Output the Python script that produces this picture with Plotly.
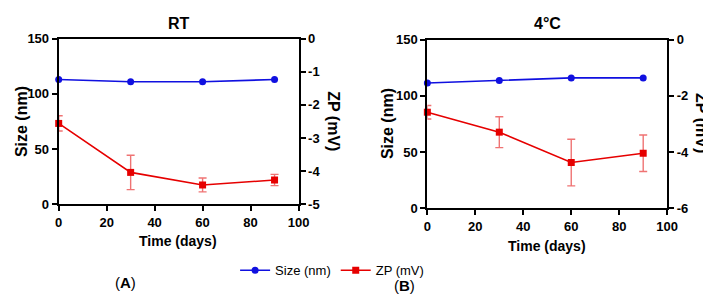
import plotly.graph_objects as go

days = [0, 30, 60, 90]
rt_size = [113, 111, 111, 113]
rt_zp = [-2.56, -4.04, -4.42, -4.27]
rt_zp_err = [0.23, 0.52, 0.21, 0.17]
c4_size = [111.5, 113.7, 116, 116]
c4_zp = [-2.58, -3.29, -4.37, -4.04]
c4_zp_err = [0.24, 0.55, 0.83, 0.65]

x_ticks = [0, 20, 40, 60, 80, 100]
size_ticks = [0, 50, 100, 150]
rt_zp_ticks = [0, -1, -2, -3, -4, -5]
c4_zp_ticks = [0, -2, -4, -6]

W, H = 711, 295
BLUE = "#1010e0"
RED = "#e60000"
ERR = "rgba(230,40,40,0.65)"
FONT = "Liberation Sans, Arial, sans-serif"

def px(x):
    return x / W

def py(y):
    return 1 - y / H

def lab(v):
    return str(v).replace("\u2212", "-")

fig = go.Figure()

def add_panel(size, zp, err, xa, ya, ya2, show):
    fig.add_trace(go.Scatter(
        x=days, y=size, xaxis=xa, yaxis=ya, name="Size (nm)",
        mode="lines+markers", line=dict(color=BLUE, width=1.6),
        marker=dict(symbol="circle", size=7, color=BLUE),
        cliponaxis=False, showlegend=show, legendgroup="s"))
    fig.add_trace(go.Scatter(
        x=days, y=zp, xaxis=xa, yaxis=ya2, name="ZP (mV)",
        mode="lines+markers", line=dict(color=RED, width=1.6),
        marker=dict(symbol="square", size=7, color=RED),
        error_y=dict(type="data", array=err, color=ERR, thickness=1.4, width=4),
        cliponaxis=False, showlegend=show, legendgroup="z"))

add_panel(rt_size, rt_zp, rt_zp_err, "x", "y", "y2", True)
add_panel(c4_size, c4_zp, c4_zp_err, "x2", "y3", "y4", False)

tickfont = dict(family=FONT, size=13, color="black", weight="bold")
axis_common = dict(showline=True, linecolor="black", linewidth=2, ticks="outside",
                   ticklen=5, tickwidth=2, tickcolor="black", showgrid=False,
                   zeroline=False, tickfont=tickfont, tickmode="array")

def tk(vals):
    return dict(tickvals=vals, ticktext=[lab(v) for v in vals])

fig.update_layout(
    width=W, height=H, margin=dict(l=0, r=0, t=0, b=0),
    paper_bgcolor="white", plot_bgcolor="white",
    font=dict(family=FONT, color="black"),
    xaxis=dict(domain=[px(47.7), px(292.7)], range=[0, 100], anchor="y",
               mirror=True, **tk(x_ticks), **axis_common),
    yaxis=dict(domain=[py(199.3), py(25)], range=[0, 150], anchor="x",
               **tk(size_ticks), **axis_common),
    yaxis2=dict(domain=[py(199.3), py(25)], range=[-5, 0], anchor="x",
                overlaying="y", side="right", **tk(rt_zp_ticks), **axis_common),
    xaxis2=dict(domain=[px(424.3), px(669.3)], range=[0, 100], anchor="y3",
                mirror=True, **tk(x_ticks), **axis_common),
    yaxis3=dict(domain=[py(203.7), py(26)], range=[0, 150], anchor="x2",
                **tk(size_ticks), **axis_common),
    yaxis4=dict(domain=[py(203.7), py(26)], range=[-6, 0], anchor="x2",
                overlaying="y3", side="right", **tk(c4_zp_ticks), **axis_common),
    legend=dict(orientation="h", x=px(327), xanchor="center", y=py(269), yanchor="middle",
                font=dict(family=FONT, size=13, color="black"), itemwidth=30,
                bgcolor="rgba(0,0,0,0)"),
)

def ann(text, x, y, size=12, bold=True, angle=0):
    fig.add_annotation(text=text, x=px(x), y=py(y), xref="paper", yref="paper",
                       showarrow=False, textangle=angle, xanchor="center", yanchor="middle",
                       font=dict(family=FONT, size=size, color="black",
                                 weight="bold" if bold else "normal"))

ann("RT", 171, 9, size=16)
ann("4°C", 547, 9, size=16)
ann("Time (days)", 170, 238, size=14)
ann("Time (days)", 547, 243, size=14)
ann("Size (nm)", 9, 112, size=16, angle=-90)
ann("Size (nm)", 383, 114, size=16, angle=-90)
ann("ZP (mV)", 329, 112, size=16, angle=90)
ann("ZP (mV)", 705, 114, size=16, angle=90)
ann("(<b>A</b>)", 116, 282, size=15, bold=False)
ann("(<b>B</b>)", 401, 285, size=15, bold=False)

fig.write_html("out.html")
